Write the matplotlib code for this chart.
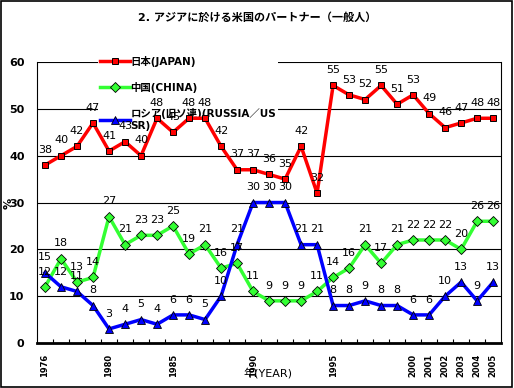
import matplotlib
matplotlib.use("Agg")
import matplotlib.pyplot as plt
from matplotlib.patches import Rectangle

plt.rcParams['font.family'] = ['DejaVu Sans', 'Noto Sans CJK JP']

# survey years (29 surveys, only some labelled on the axis)
year_labels = ['1976', '', '', '', '1980', '', '', '', '1985', '', '', '', '',
               '1990', '', '', '', '', '1995', '', '', '', '', '2000', '2001',
               '2002', '2003', '2004', '2005']

japan = [38, 40, 42, 47, 41, 43, 40, 48, 45, 48, 48, 42, 37, 37, 36, 35, 42, 32,
         55, 53, 52, 55, 51, 53, 49, 46, 47, 48, 48]
china = [12, 18, 13, 14, 27, 21, 23, 23, 25, 19, 21, 16, 17, 11, 9, 9, 9, 11,
         14, 16, 21, 17, 21, 22, 22, 22, 20, 26, 26]
russia = [15, 12, 11, 8, 3, 4, 5, 4, 6, 6, 5, 10, 21, 30, 30, 30, 21, 21,
          8, 8, 9, 8, 8, 6, 6, 10, 13, 9, 13]

names = ['日本(JAPAN)', '中国(CHINA)', 'ロシア(旧ソ連)(RUSSIA／US\nSR)']

fig = plt.figure(figsize=(5.14, 3.88), dpi=100)
ax = fig.add_axes([0.072, 0.116, 0.903, 0.724])

x = list(range(len(year_labels)))

l_china, = ax.plot(x, china, color='#33ff33', lw=2.5, marker='D', ms=5,
                   mfc='#33ff33', mec='black', mew=0.6, zorder=3)
l_russia, = ax.plot(x, russia, color='#0000ff', lw=2.5, marker='^', ms=6,
                    mfc='#0000ff', mec='black', mew=0.6, zorder=4)
l_japan, = ax.plot(x, japan, color='#ff0000', lw=2.5, marker='s', ms=5,
                   mfc='#ff0000', mec='black', mew=0.7, zorder=5)

# data labels above each point
for series in (japan, china, russia):
    for xi, v in zip(x, series):
        ax.annotate(str(v), (xi, v), xytext=(0, 11), textcoords='offset points',
                    ha='center', va='center', fontsize=8, zorder=6)

ax.set_xlim(-0.5, len(x) - 0.5)
ax.set_ylim(0, 60)
ax.set_yticks(range(0, 61, 10))
ax.set_yticklabels([str(v) for v in range(0, 61, 10)], fontweight='bold', fontsize=8)
ax.set_xticks(x)
ax.set_xticklabels(year_labels, rotation=90, fontweight='bold', fontsize=6)
ax.set_xticks([i + 0.5 for i in x[:-1]], minor=True)
ax.tick_params(axis='both', which='major', length=0, pad=8)
ax.tick_params(axis='x', which='minor', direction='in', length=3, width=0.8)
ax.tick_params(axis='y', pad=9)

ax.set_axisbelow(True)
ax.grid(axis='y', color='black', lw=0.8, zorder=0.5)
for s in ('left', 'right'):
    ax.spines[s].set_linewidth(0.8)
ax.spines['top'].set_visible(False)
ax.spines['bottom'].set_linewidth(2)

fig.text(9 / 514, 1 - 203 / 388, '%', rotation=90, ha='center', va='center',
         fontsize=8, fontweight='bold')
fig.text(268 / 514, 1 - 373 / 388, '年(YEAR)', ha='center', va='center', fontsize=8)

leg = ax.legend([l_japan, l_china, l_russia], names, loc='upper left',
                bbox_to_anchor=(0.132, 1.03), frameon=True, fancybox=False,
                edgecolor='none', facecolor='white', framealpha=1,
                prop={'weight': 'bold', 'size': 7.5}, handlelength=2.8,
                handletextpad=0.1, labelspacing=1.45, borderpad=0.2,
                borderaxespad=0)
leg.set_zorder(1)

fig.text(0.5, 0.955, '2. アジアに於ける米国のパートナー（一般人）', ha='center',
         va='center', fontsize=8, fontweight='bold')

fig.patches.append(Rectangle((0.002, 0.003), 0.995, 0.994, transform=fig.transFigure,
                             fill=False, edgecolor='black', lw=1.2))

fig.savefig('out.png', dpi=100)
